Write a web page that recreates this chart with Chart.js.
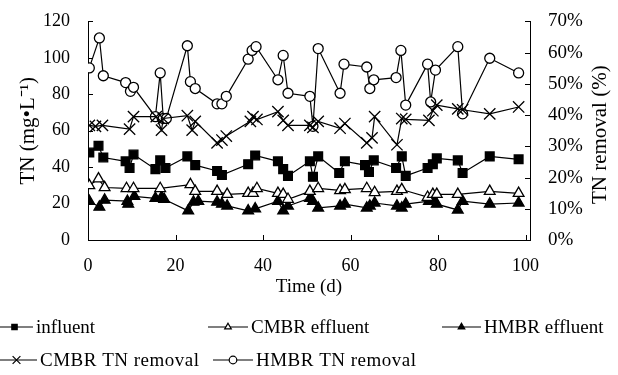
<!DOCTYPE html>
<html>
<head>
<meta charset="utf-8">
<script src="https://cdn.jsdelivr.net/npm/chart.js@4/dist/chart.umd.min.js"></script>
<style>
  html, body { margin: 0; padding: 0; background: #fff; }
  #wrap { width: 618px; height: 375px; }
</style>
</head>
<body>
<div id="wrap"><canvas id="tnChart" width="618" height="375"></canvas></div>
<script>
// TN concentration (mg/L), left axis
const influentDays = [0.3, 2.4, 3.5, 8.6, 9.5, 10.4, 15.4, 16.5, 17.7, 22.7, 24.5, 29.5, 30.6, 36.6, 38.2, 43.4, 44.6, 45.7, 50.7, 51.4, 52.6, 57.4, 58.7, 63.3, 64.2, 65.3, 70.4, 71.7, 72.6, 77.6, 78.8, 79.7, 84.5, 85.6, 91.8, 98.4];
const influentTN = [48.0, 51.7, 45.3, 43.2, 39.5, 46.9, 38.9, 43.7, 39.5, 45.9, 41.1, 37.9, 35.7, 41.6, 46.4, 43.2, 38.9, 35.2, 43.2, 34.7, 45.9, 36.8, 43.2, 41.1, 37.3, 43.7, 39.5, 45.9, 35.2, 39.5, 41.6, 44.8, 43.7, 36.8, 45.9, 44.3];

const cmbrEffDays = [0.3, 2.4, 3.8, 8.8, 10.4, 16.5, 23.4, 24.5, 29.5, 31.8, 36.6, 37.7, 38.6, 43.4, 44.6, 45.7, 50.7, 52.6, 57.6, 58.7, 63.7, 65.5, 70.6, 71.7, 77.6, 78.8, 79.7, 84.5, 91.8, 98.4];
const cmbrEffTN = [29.9, 33.6, 28.8, 28.3, 28.3, 28.3, 30.4, 26.7, 26.7, 25.1, 25.6, 25.6, 28.3, 25.6, 25.1, 22.4, 26.7, 28.3, 27.2, 27.7, 28.3, 26.1, 26.7, 27.7, 23.5, 25.1, 25.1, 25.1, 26.7, 25.6];

const hmbrEffDays = [0.3, 2.6, 3.8, 9.0, 9.2, 10.6, 15.4, 16.8, 17.4, 22.9, 24.1, 25.2, 29.5, 30.6, 31.8, 36.6, 38.2, 43.4, 44.6, 45.7, 50.7, 51.4, 52.6, 57.6, 58.7, 63.7, 64.4, 65.5, 70.6, 71.7, 72.6, 77.9, 78.8, 79.7, 84.5, 85.6, 91.8, 98.4];
const hmbrEffTN = [21.3, 18.1, 21.9, 21.3, 19.7, 24.0, 22.9, 23.5, 22.4, 16.0, 20.8, 21.3, 20.8, 19.7, 18.7, 16.0, 17.1, 21.3, 16.0, 18.7, 22.9, 21.3, 17.6, 18.7, 19.7, 17.6, 18.7, 20.3, 18.7, 17.6, 19.7, 21.3, 22.9, 19.7, 16.5, 21.3, 19.7, 20.3];

// TN removal (%), right axis
const cmbrRemDays = [0.3, 1.7, 3.3, 9.5, 10.4, 15.6, 16.8, 17.2, 22.7, 23.8, 24.5, 29.5, 30.6, 31.6, 37.1, 37.7, 38.6, 43.4, 44.6, 45.7, 50.7, 51.4, 52.6, 57.6, 58.7, 63.7, 64.9, 65.5, 70.6, 71.7, 72.6, 77.9, 78.8, 79.7, 84.5, 85.6, 91.8, 98.4];
const cmbrRemoval = [36.7, 36.4, 36.7, 35.5, 39.5, 39.5, 35.2, 38.9, 39.8, 35.2, 38.0, 31.1, 32.0, 33.3, 38.0, 39.5, 38.6, 41.1, 38.3, 36.7, 36.7, 36.1, 38.0, 35.8, 37.3, 31.1, 32.7, 39.5, 30.5, 38.9, 38.6, 38.3, 41.4, 43.2, 42.0, 41.7, 40.4, 42.6];

const hmbrRemDays = [0.3, 2.6, 3.5, 8.6, 9.7, 10.4, 15.4, 16.5, 17.2, 17.9, 22.7, 23.4, 24.5, 29.5, 30.6, 31.6, 36.6, 37.5, 38.4, 43.4, 44.6, 45.7, 50.7, 51.4, 52.6, 57.6, 58.5, 63.7, 64.4, 65.3, 70.4, 71.5, 72.6, 77.6, 78.3, 79.4, 84.5, 85.6, 91.8, 98.4];
const hmbrRemoval = [55.1, 64.7, 52.6, 50.4, 47.6, 48.9, 39.5, 53.5, 38.9, 38.9, 62.2, 50.7, 48.5, 43.6, 43.6, 46.0, 57.9, 60.7, 61.9, 51.3, 59.1, 47.0, 46.0, 36.4, 61.3, 47.0, 56.3, 55.4, 48.5, 51.3, 52.0, 60.7, 43.2, 56.3, 44.2, 54.4, 61.9, 40.4, 58.2, 53.5];

const xTicks = [0, 20, 40, 60, 80, 100];
const leftTicks = [0, 20, 40, 60, 80, 100, 120];
const rightTicks = [0, 10, 20, 30, 40, 50, 60, 70];

const serif = 'Liberation Serif';

function toPoints(days, vals) {
    return days.map((d, i) => ({ x: d, y: vals[i] }));
}

function series(label, days, vals, axis, style, radius, fill) {
    return {
        label: label,
        data: toPoints(days, vals),
        yAxisID: axis,
        borderColor: '#000',
        borderWidth: 1.2,
        pointStyle: style,
        pointRadius: radius,
        pointBorderWidth: 1.3,
        pointBorderColor: '#000',
        pointBackgroundColor: fill,
        fill: false,
        tension: 0
    };
}

const datasets = [
    series('influent', influentDays, influentTN, 'yL', 'rect', 6.2, '#000'),
    series('CMBR effluent', cmbrEffDays, cmbrEffTN, 'yL', 'triangle', 6.2, '#fff'),
    series('HMBR effluent', hmbrEffDays, hmbrEffTN, 'yL', 'triangle', 6.2, '#000'),
    series('CMBR TN removal', cmbrRemDays, cmbrRemoval, 'yR', 'crossRot', 8, '#000'),
    series('HMBR TN removal', hmbrRemDays, hmbrRemoval, 'yR', 'circle', 5, '#fff')
];

// ticks in the original point inward, right title reads bottom-to-top
const axisExtras = {
    id: 'axisExtras',
    afterDraw(chart) {
        const ctx = chart.ctx;
        const a = chart.chartArea;
        ctx.save();
        ctx.strokeStyle = '#000';
        ctx.lineWidth = 1;
        ctx.beginPath();
        chart.scales.x.ticks.forEach(t => {
            const px = Math.round(chart.scales.x.getPixelForValue(t.value)) + 0.5;
            ctx.moveTo(px, a.bottom); ctx.lineTo(px, a.bottom - 5);
        });
        chart.scales.yL.ticks.forEach(t => {
            const py = Math.round(chart.scales.yL.getPixelForValue(t.value)) + 0.5;
            ctx.moveTo(a.left, py); ctx.lineTo(a.left + 5, py);
        });
        chart.scales.yR.ticks.forEach(t => {
            const py = Math.round(chart.scales.yR.getPixelForValue(t.value)) + 0.5;
            ctx.moveTo(a.right, py); ctx.lineTo(a.right - 5, py);
        });
        ctx.stroke();

        ctx.translate(600, (a.top + a.bottom) / 2 + 4);
        ctx.rotate(-Math.PI / 2);
        ctx.font = '21px "' + serif + '"';
        ctx.textAlign = 'center';
        ctx.textBaseline = 'middle';
        ctx.fillStyle = '#000';
        ctx.fillText('TN removal (%)', 0, 0);
        ctx.restore();
    }
};

// legend laid out like the original figure (two rows, left aligned)
const legendSlots = [
    { x0: -4, x1: 33, y: 327, spacing: '0px' },
    { x0: 208, x1: 248, y: 327, spacing: '0px' },
    { x0: 442, x1: 481, y: 327, spacing: '0px' },
    { x0: -4, x1: 37, y: 360, spacing: '0.5px' },
    { x0: 213, x1: 253, y: 360, spacing: '0.5px' }
];

const customLegend = {
    id: 'customLegend',
    afterDraw(chart) {
        const ctx = chart.ctx;
        ctx.save();
        ctx.font = '19px "' + serif + '"';
        ctx.textBaseline = 'middle';
        chart.data.datasets.forEach((ds, i) => {
            const s = legendSlots[i];
            ctx.strokeStyle = '#000';
            ctx.lineWidth = 1.2;
            ctx.beginPath();
            ctx.moveTo(s.x0, s.y);
            ctx.lineTo(s.x1, s.y);
            ctx.stroke();
            ctx.fillStyle = ds.pointBackgroundColor;
            Chart.helpers.drawPoint(ctx, {
                pointStyle: ds.pointStyle,
                radius: ds.pointStyle === 'crossRot' ? 5.5 : 3.8,
                rotation: 0,
                borderWidth: 1
            }, (s.x0 + s.x1) / 2, s.y);
            ctx.fillStyle = '#000';
            ctx.letterSpacing = s.spacing;
            ctx.fillText(ds.label, s.x1 + 3, s.y + 1);
            ctx.letterSpacing = '0px';
        });
        ctx.restore();
    }
};

const ctx = document.getElementById('tnChart').getContext('2d');
new Chart(ctx, {
    type: 'line',
    data: { datasets: datasets },
    options: {
        responsive: false,
        animation: false,
        devicePixelRatio: 1,
        layout: { padding: { left: 0, right: 0, top: 15, bottom: 75 } },
        plugins: {
            legend: { display: false },
            tooltip: { enabled: false }
        },
        scales: {
            x: {
                type: 'linear',
                min: 0,
                max: 101,
                afterBuildTicks: s => { s.ticks = xTicks.map(v => ({ value: v })); },
                afterFit: s => { s.height = 60; },
                grid: { display: false },
                border: { display: true, color: '#000', width: 1 },
                ticks: { color: '#000', padding: 7, font: { family: serif, size: 18 }, maxRotation: 0 },
                title: { display: true, text: 'Time (d)', color: '#000', font: { family: serif, size: 19 }, padding: { top: 0, bottom: 2 } }
            },
            yL: {
                position: 'left',
                min: 0,
                max: 120,
                afterBuildTicks: s => { s.ticks = leftTicks.map(v => ({ value: v })); },
                afterFit: s => { s.width = 88; },
                grid: { display: false },
                border: { display: true, color: '#000', width: 1 },
                ticks: { color: '#000', padding: 10, font: { family: serif, size: 18 } },
                title: { display: true, text: 'TN (mg\u2022L\u207B\u00B9)', color: '#000', font: { family: serif, size: 21 }, padding: { top: 16, bottom: 0 } }
            },
            yR: {
                position: 'right',
                min: 0,
                max: 70,
                afterBuildTicks: s => { s.ticks = rightTicks.map(v => ({ value: v })); },
                afterFit: s => { s.width = 88; },
                grid: { display: false },
                border: { display: true, color: '#000', width: 1 },
                ticks: { color: '#000', padding: 10, font: { family: serif, size: 19 }, callback: v => v + '%' },
                title: { display: false }
            }
        }
    },
    plugins: [axisExtras, customLegend]
});
</script>
</body>
</html>
